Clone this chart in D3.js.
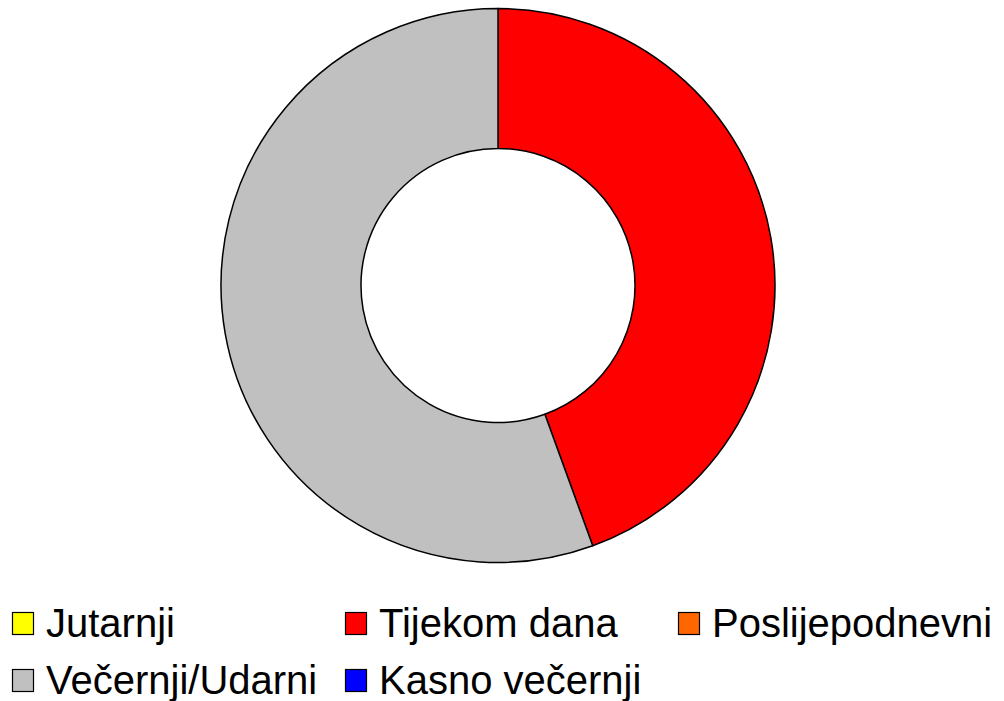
<!DOCTYPE html>
<html>
<head>
<meta charset="utf-8">
<script src="https://cdn.jsdelivr.net/npm/d3@7"></script>
<style>
  html, body { margin: 0; padding: 0; background: #fff; }
  svg { display: block; }
</style>
</head>
<body>
<svg id="chart" width="1004" height="701"></svg>
<script>
// Time-slot categories, their counts and colours
const categories = ["Jutarnji", "Tijekom dana", "Poslijepodnevni", "Večernji/Udarni", "Kasno večernji"];
const values = [0, 4, 0, 5, 0];
const colors = ["#ffff00", "#ff0000", "#ff6600", "#c0c0c0", "#0000ff"];

const svg = d3.select("#chart");
const cx = 498, cy = 285.5;
const outerR = 277, innerR = 137;

const data = categories.map((c, i) => ({ name: c, value: values[i], color: colors[i] }));

const pie = d3.pie().sort(null).value(d => d.value).startAngle(0).endAngle(2 * Math.PI);
const arc = d3.arc().innerRadius(innerR).outerRadius(outerR);

const g = svg.append("g").attr("transform", `translate(${cx},${cy})`);
g.selectAll("path")
  .data(pie(data).filter(d => d.data.value > 0))
  .join("path")
  .attr("d", arc)
  .attr("fill", d => d.data.color)
  .attr("stroke", "#000")
  .attr("stroke-width", 1.5)
  .attr("stroke-linejoin", "round");

// Legend: three columns, two rows
const colX = [12, 345, 678];
const rowY = [612, 669];
const legend = svg.append("g");
data.forEach((d, i) => {
  const col = i % 3, row = Math.floor(i / 3);
  const item = legend.append("g").attr("transform", `translate(${colX[col]},${rowY[row]})`);
  item.append("rect")
    .attr("x", 0.5).attr("y", 0.5)
    .attr("width", 21).attr("height", 22)
    .attr("fill", d.color)
    .attr("stroke", "#000")
    .attr("stroke-width", 1.2);
  item.append("text")
    .attr("x", 34).attr("y", 25)
    .attr("font-family", "Liberation Sans, Arial, sans-serif")
    .attr("font-size", 40)
    .attr("fill", "#000")
    .text(d.name);
});
</script>
</body>
</html>
